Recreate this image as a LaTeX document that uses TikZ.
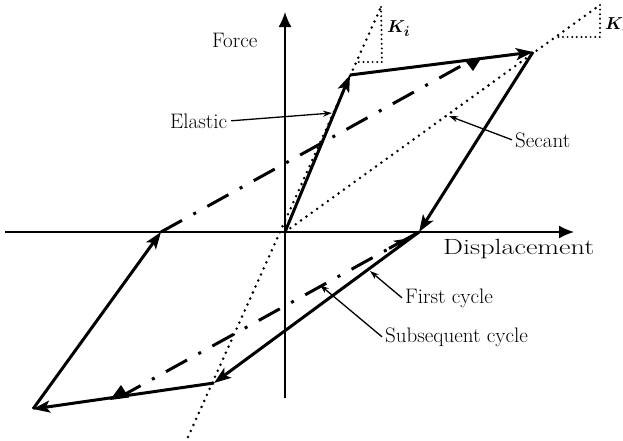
\documentclass[tikz,border=0pt]{standalone}
\usepackage{bm}
\usepackage{graphicx}
\usetikzlibrary{arrows.meta}
\begin{document}
\begin{tikzpicture}[x=1pt,y=-1pt,
  every node/.style={font=\fontsize{21}{24}\selectfont, inner sep=0pt},
  klabel/.style={font=\fontsize{19}{22}\selectfont},
  axis/.style={line width=1.6pt,-{Latex[length=15pt,width=13pt]}},
  curve/.style={line width=3pt,-{Stealth[length=17pt,width=12pt,inset=4pt]}},
  dashdot/.style={line width=3pt, dash pattern=on 24pt off 13pt on 3pt off 13pt},
  dotline/.style={line width=2.8pt, line cap=round, dash pattern=on 0pt off 6.6pt},
  smalldot/.style={line width=2.2pt, line cap=round, dash pattern=on 0pt off 4.6pt},
  lbl/.style={line width=1.3pt,-{Stealth[length=9pt,width=6pt]}}
]
\useasboundingbox (0,0) rectangle (623,440);
% key points
\coordinate (O) at (285,232);
\coordinate (A) at (350,75);
\coordinate (B) at (533,52);
\coordinate (C) at (419,232);
\coordinate (D) at (214,383);
\coordinate (E) at (33,409);
\coordinate (F) at (161,232);
\coordinate (H) at (470,61);
\coordinate (G) at (120,397);
% axes
\coordinate (xl) at (5,232);
\coordinate (xr) at (574,232);
\coordinate (yb) at (285,398);
\coordinate (yt) at (285,12);
\draw[axis] (xl) -- (xr);
\draw[axis] (yb) -- (yt);
% dotted stiffness lines
\coordinate (Kit) at (381,7);
\coordinate (Kib) at (188,437);
\draw[dotline] (Kib) -- (Kit);
\coordinate (Kst) at (600,5);
\draw[dotline] (O) -- (Kst);
\coordinate (Kic) at (382,62);
\coordinate (Kih) at (357,62);
\draw[smalldot] (Kit) -- (Kic) -- (Kih);
\coordinate (Ksc) at (600,37);
\coordinate (Ksh) at (558,37);
\draw[smalldot] (Kst) -- (Ksc) -- (Ksh);
\node[klabel,anchor=base west] (kilabel) at (387,32) {$\bm{K}_{\bm{i}}$};
\node[klabel,anchor=base west] (kslabel) at (605,29) {$\bm{K}_{\bm{s}}$};
% subsequent cycle (dash-dot)
\draw[dashdot] (F) -- (H);
\draw[dashdot] (C) -- (G);
\fill (465,60.5) -- (481,58.5) -- (473,71) -- cycle;
\fill (110,400) -- (129,397.5) -- (121,385) -- cycle;
\coordinate (cs) at (389,248.4);
\coordinate (ce) at (407,238.6);
\draw[line width=3pt,-{Stealth[length=13pt,width=9pt,inset=3pt]}] (cs) -- (ce);
% first cycle (solid)
\draw[curve] (O) -- (A);
\draw[curve] (A) -- (B);
\draw[curve] (B) -- (C);
\draw[curve] (C) -- (D);
\draw[curve] (D) -- (E);
\draw[curve] (E) -- (F);
% labels
\node[anchor=base west] (force) at (212,47) {Force};
\node[anchor=base west] (disp) at (443,254) {\scalebox{1.28}[1]{\fontsize{22}{24}\selectfont Displacement}};
\node[anchor=base west] (elastic) at (170,128) {Elastic};
\node[anchor=base west] (secant) at (515,147) {Secant};
\node[anchor=base west] (first) at (405,303) {First cycle};
\node[anchor=base west] (subs) at (385,342) {Subsequent cycle};
\coordinate (elp) at (332,113);
\coordinate (sep) at (449,116);
\coordinate (fcp) at (370,271);
\coordinate (scp) at (320,285);
\draw[lbl] ([xshift=4pt]elastic.east) -- (elp);
\draw[lbl] ([xshift=-3pt]secant.west) -- (sep);
\draw[lbl] ([xshift=-3pt]first.west) -- (fcp);
\draw[lbl] ([xshift=-3pt]subs.west) -- (scp);
\end{tikzpicture}
\end{document}
